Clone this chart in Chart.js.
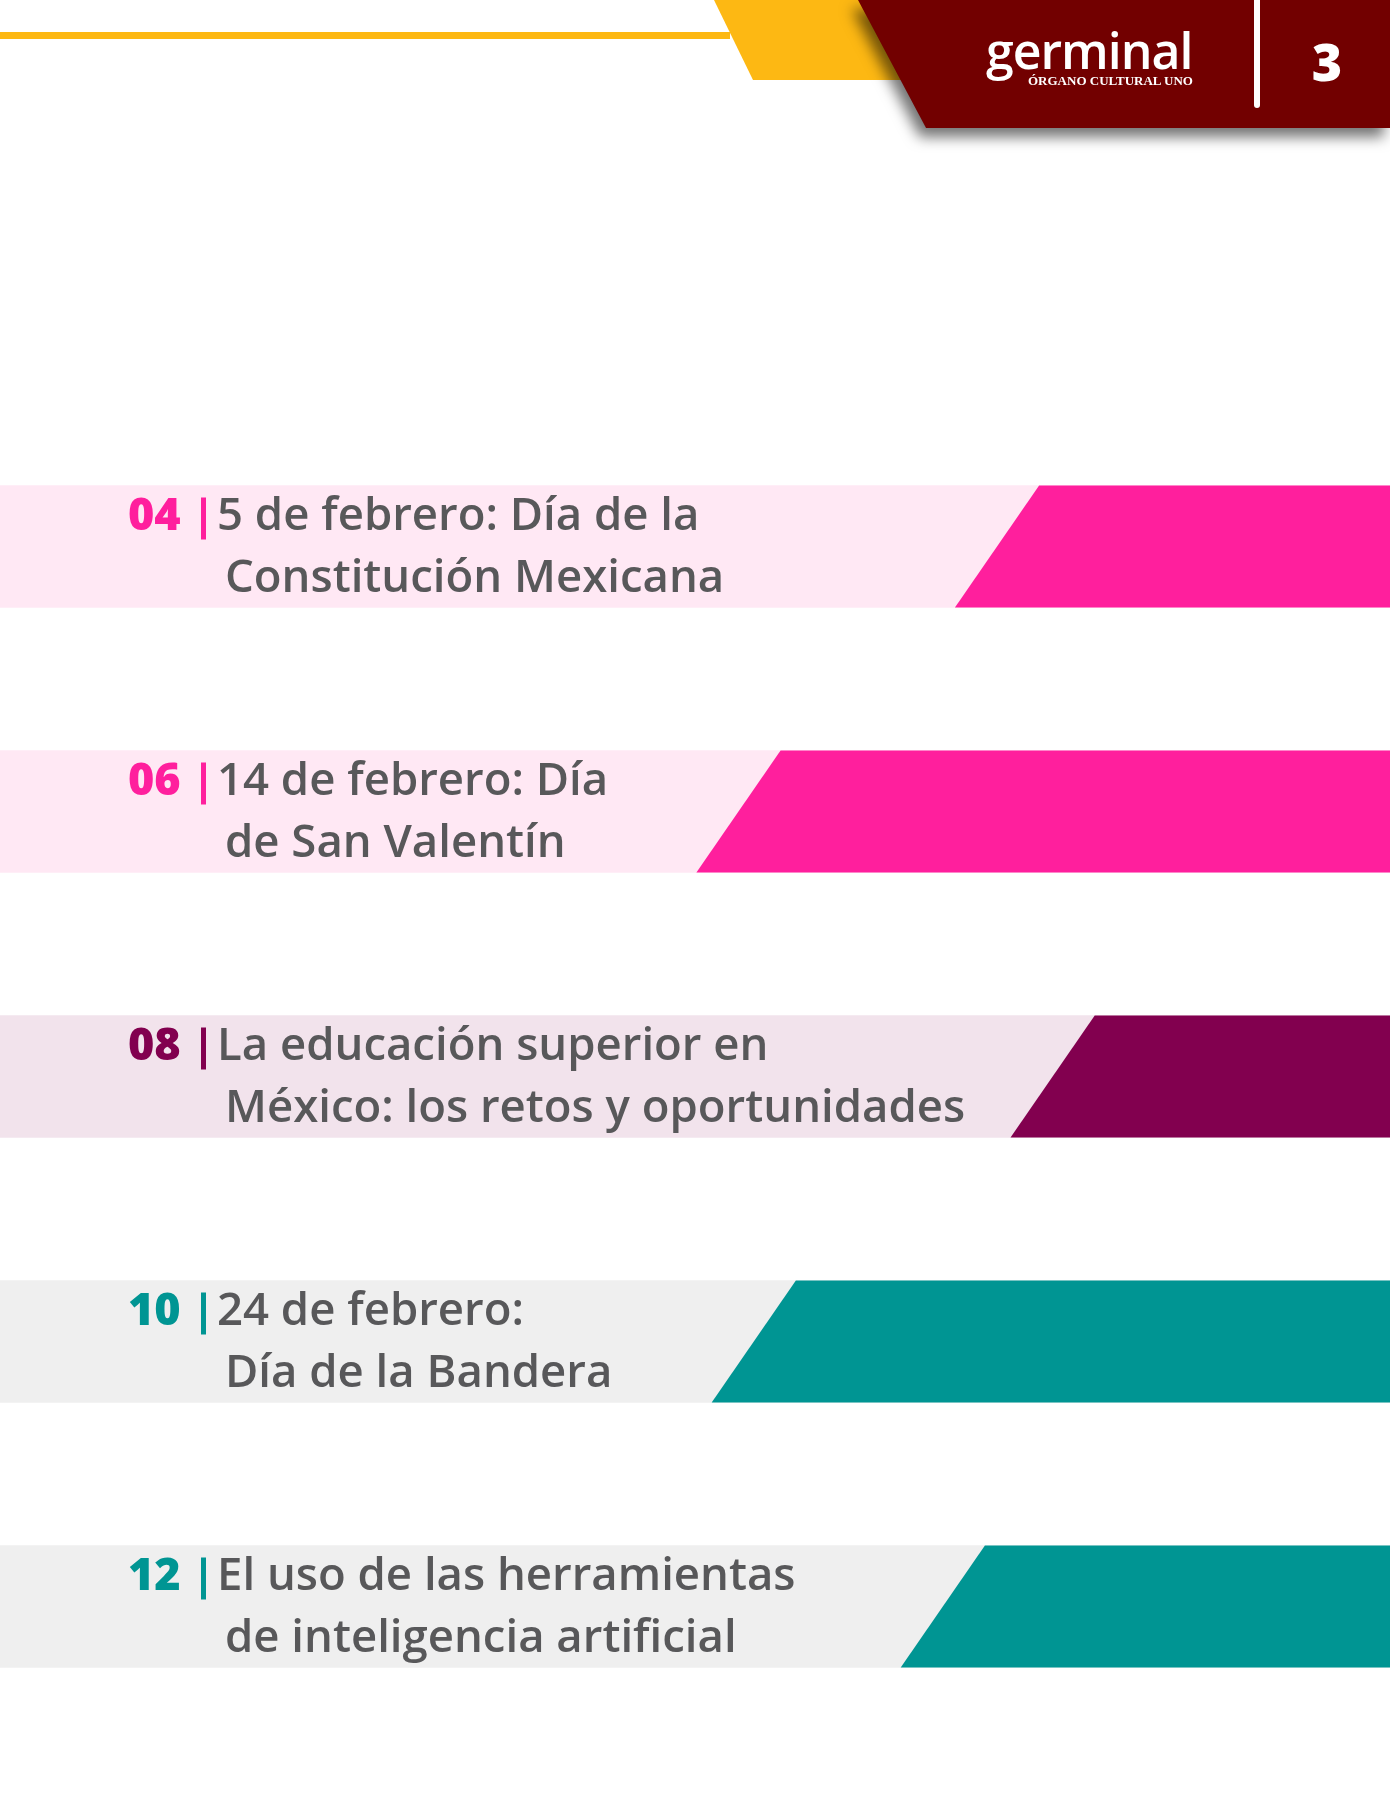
<!DOCTYPE html>
<html lang="es">
<head>
<meta charset="utf-8">
<title>Germinal 3 - índice</title>
<script src="https://cdn.jsdelivr.net/npm/chart.js@4.4.1/dist/chart.umd.min.js"></script>
<style>
  html, body { margin: 0; padding: 0; background: #ffffff; }
  #page { position: relative; width: 1390px; height: 1800px; overflow: hidden; background: #ffffff; }
  #toc { position: absolute; left: 0; top: 0; }
  .rule { position: absolute; left: 0; top: 32px; width: 730px; height: 7px; background: #fdb813; }
  .tab-yellow { position: absolute; left: 714px; top: 0; width: 190px; height: 80px; background: #fdb813;
    clip-path: polygon(0 0, 100% 0, 100% 100%, 39px 100%); }
  .tab-shadow { position: absolute; left: 858px; top: 0; width: 532px; height: 128px;
    filter: drop-shadow(-6px 9px 7px rgba(0,0,0,0.55)); }
  .tab-red { width: 100%; height: 100%; background: #720000;
    clip-path: polygon(0 0, 100% 0, 100% 100%, 68px 100%); }
  .logo { position: absolute; left: 986px; top: 17px; color: #fff; font-family: "Open Sans", sans-serif;
    font-weight: 600; font-size: 50px; line-height: 66px; letter-spacing: -1px; }
  .tagline { position: absolute; left: 1028px; top: 74px; color: #fff; font-family: "Liberation Serif", serif;
    font-weight: 700; font-size: 13px; line-height: 14px; white-space: nowrap; }
  .divider { position: absolute; left: 1254px; top: -4px; width: 6px; height: 112px; background: #fff; border-radius: 3px; }
  .pagenum { position: absolute; left: 1300px; top: 26px; width: 54px; text-align: center; color: #fff;
    font-family: "Open Sans", sans-serif; font-weight: 800; font-size: 52px; line-height: 70px; }
</style>
</head>
<body>
<div id="page">
  <canvas id="toc" width="1390" height="1800"></canvas>
  <div class="rule"></div>
  <div class="tab-yellow"></div>
  <div class="tab-shadow"><div class="tab-red"></div></div>
  <div class="logo">germinal</div>
  <div class="tagline">ÓRGANO CULTURAL UNO</div>
  <div class="divider"></div>
  <div class="pagenum">3</div>
</div>
<script>
// page numbers of each article (one row each)
const pages = ['04', '06', '08', '10', '12'];
const titleLine1 = [
  '5 de febrero: Día de la',
  '14 de febrero: Día',
  'La educación superior en',
  '24 de febrero:',
  'El uso de las herramientas'
];
const titleLine2 = [
  'Constitución Mexicana',
  'de San Valentín',
  'México: los retos y oportunidades',
  'Día de la Bandera',
  'de inteligencia artificial'
];
// where the coloured block starts (bottom corner), % of page width
const accentStart = [68.7, 50.1, 72.7, 51.2, 64.8];
const accentColors = ['#ff1f9d', '#ff1f9d', '#82004f', '#009593', '#009593'];
const bandColors = ['#ffe8f4', '#ffe8f4', '#f2e3ec', '#efefef', '#efefef'];

const textGrey = '#58585a';

// draws the coloured block with a slanted left edge instead of a plain rectangle
const slantBlocks = {
  id: 'slantBlocks',
  beforeDatasetDraw(chart, args) {
    if (args.index !== 1) return;
    const c = chart.ctx;
    args.meta.data.forEach((bar, i) => {
      const { x, y, base, height } = bar.getProps(['x', 'y', 'base', 'height'], true);
      const top = y - height / 2;
      const bottom = y + height / 2;
      const slant = height * 0.69;
      c.save();
      c.fillStyle = accentColors[i];
      c.beginPath();
      c.moveTo(base, bottom);
      c.lineTo(base + slant, top);
      c.lineTo(x, top);
      c.lineTo(x, bottom);
      c.closePath();
      c.fill();
      c.restore();
    });
    return false;
  }
};

// page number, bar and title for each row
const rowLabels = {
  id: 'rowLabels',
  afterDatasetsDraw(chart) {
    const c = chart.ctx;
    const meta = chart.getDatasetMeta(0);
    meta.data.forEach((bar, i) => {
      const { y, height } = bar.getProps(['y', 'height'], true);
      const top = y - height / 2;
      c.save();
      c.textBaseline = 'alphabetic';
      c.textAlign = 'left';
      c.fillStyle = accentColors[i];
      c.font = '800 45px "Open Sans"';
      c.fillText(pages[i], 128, top + 44.5);
      c.fillRect(201, top + 12, 5, 42);
      c.fillStyle = textGrey;
      c.font = '600 45.5px "Open Sans"';
      c.fillText(titleLine1[i], 217, top + 44.5);
      c.fillText(titleLine2[i], 225, top + 106.5);
      c.restore();
    });
  }
};

function drawIndex() {
  const ctx = document.getElementById('toc');

  new Chart(ctx, {
    type: 'bar',
    data: {
      labels: pages,
      datasets: [
        {
          label: 'franja',
          data: pages.map(() => [0, 100]),
          backgroundColor: bandColors,
          barThickness: 122,
          grouped: false,
          borderWidth: 0,
          order: 2 // drawn first, behind the block
        },
        {
          label: 'bloque',
          data: accentStart.map(v => [v, 100]),
          backgroundColor: accentColors,
          barThickness: 122,
          grouped: false,
          borderWidth: 0,
          order: 1
        }
      ]
    },
    options: {
      indexAxis: 'y',
      responsive: false,
      animation: false,
      devicePixelRatio: 1,
      layout: {
        padding: { top: 414, bottom: 61, left: 0, right: 0 }
      },
      scales: {
        x: { type: 'linear', min: 0, max: 100, display: false },
        y: { display: false }
      },
      plugins: {
        legend: { display: false },
        tooltip: { enabled: false }
      }
    },
    plugins: [slantBlocks, rowLabels]
  });
}

if (document.fonts && document.fonts.load) {
  Promise.all([
    document.fonts.load('600 45px "Open Sans"'),
    document.fonts.load('800 45px "Open Sans"')
  ]).then(drawIndex, drawIndex);
} else {
  drawIndex();
}
</script>
</body>
</html>
